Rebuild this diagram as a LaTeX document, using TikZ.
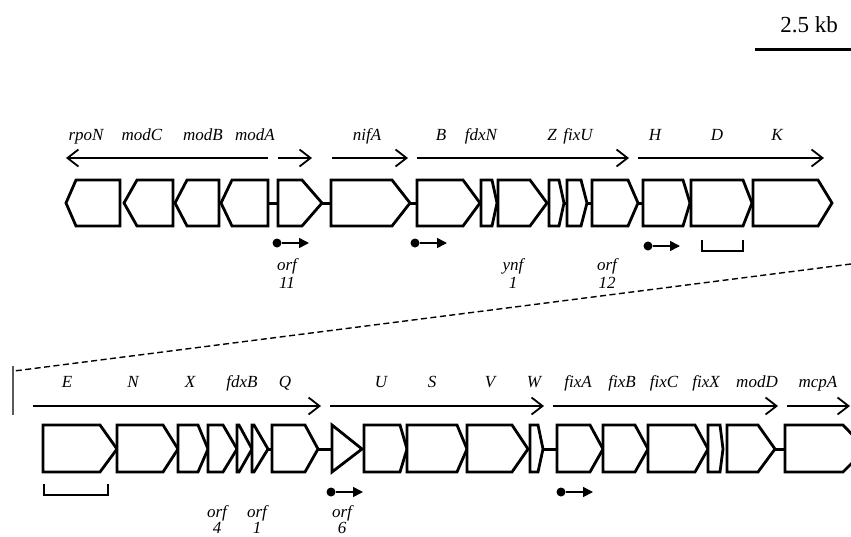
\documentclass[tikz,border=0pt]{standalone}
\usepackage{fontspec}
\setmainfont{Liberation Serif}
\usetikzlibrary{arrows.meta,calc}
% gene: name, flat end x, corner x, tip x  (uses \yt \ym \yb)
\newcommand{\gn}[4]{%
  \draw[gene] (#2,\yt) -- (#3,\yt) -- (#4,\ym) -- (#3,\yb) -- (#2,\yb) -- cycle;
  \coordinate (#1-a) at (#2,\ym);
  \coordinate (#1-b) at (#4,\ym);}
\begin{document}
\begin{tikzpicture}[x=1pt,y=-1pt,
  gene/.style={line width=2.8pt,line join=miter,fill=white},
  igr/.style={line width=3pt},
  opr/.style={line width=1.8pt,-{Straight Barb[length=11pt,width=17pt,line width=1.8pt]}},
  prom/.style={line width=1.6pt,-{Triangle[length=10pt,width=10pt]}},
  dot/.style={circle,fill=black,inner sep=0pt,minimum size=9pt},
  lab/.style={font=\fontsize{17}{17}\selectfont\itshape,inner sep=0pt,anchor=base},
  brk/.style={line width=2.8pt},
  zoomline/.style={line width=1.4pt,dash pattern=on 6pt off 3.5pt}]
\useasboundingbox (0,0) rectangle (851,536);
\clip (0,0) rectangle (851,536);

% scale bar
\node[font=\fontsize{23}{23}\selectfont,inner sep=0pt,anchor=base] (scl) at (809,32) {2.5 kb};
\coordinate (sb1) at (755,49);
\coordinate (sb2) at (853,49);
\draw[line width=3pt] (sb1) -- (sb2);

% ---------------- top row ----------------
\def\yt{180}\def\ym{203}\def\yb{226}
\gn{rpoN}{120}{76}{66}
\gn{modC}{173}{137}{124}
\gn{modB}{219}{187}{175}
\gn{modA}{268}{232}{221}
\gn{orfA}{278}{302}{322}
\gn{nifA}{331}{392}{410}
\gn{nifB}{417}{463}{480}
\gn{fdxN}{481}{492}{497}
\gn{ynf}{498}{530}{547}
\gn{nifZ}{549}{559}{564}
\gn{fixU}{567}{581}{587}
\gn{orfB}{592}{628}{638}
\gn{nifH}{643}{683}{690}
\gn{nifD}{691}{743}{752}
\gn{nifK}{753}{818}{832}
\draw[igr] (modA-a) -- (orfA-a);
\draw[igr] (orfA-b) -- (nifA-a);
\draw[igr] (nifA-b) -- (nifB-a);
\draw[igr] (nifZ-b) -- (fixU-a);
\draw[igr] (fixU-b) -- (orfB-a);
\draw[igr] (orfB-b) -- (nifH-a);

% operon arrows top
\coordinate (t1a) at (268,158); \coordinate (t1b) at (66,158);
\coordinate (t2a) at (278,158); \coordinate (t2b) at (312,158);
\coordinate (t3a) at (332,158); \coordinate (t3b) at (408,158);
\coordinate (t4a) at (417,158); \coordinate (t4b) at (629,158);
\coordinate (t5a) at (638,158); \coordinate (t5b) at (824,158);
\draw[opr] (t1a) -- (t1b);
\draw[opr] (t2a) -- (t2b);
\draw[opr] (t3a) -- (t3b);
\draw[opr] (t4a) -- (t4b);
\draw[opr] (t5a) -- (t5b);

% labels top
\node[lab] (lrpoN) at (86,140) {rpoN};
\node[lab] (lmodC) at (142,140) {modC};
\node[lab] (lmodB) at (203,140) {modB};
\node[lab] (lmodA) at (255,140) {modA};
\node[lab] (lnifA) at (367,140) {nifA};
\node[lab] (lB) at (441,140) {B};
\node[lab] (lfdxN) at (481,140) {fdxN};
\node[lab] (lZ) at (552,140) {Z};
\node[lab] (lfixU) at (578,140) {fixU};
\node[lab] (lH) at (655,140) {H};
\node[lab] (lD) at (717,140) {D};
\node[lab] (lK) at (777,140) {K};

% promoters top
\node[dot] (p1) at (277,243) {}; \coordinate (p1e) at (309,243);
\node[dot] (p2) at (415,243) {}; \coordinate (p2e) at (447,243);
\node[dot] (p3) at (648,246) {}; \coordinate (p3e) at (680,246);
\draw[prom] (p1) -- (p1e);
\draw[prom] (p2) -- (p2e);
\draw[prom] (p3) -- (p3e);

% bracket under D
\coordinate (bd1) at (702,240); \coordinate (bd2) at (743,240);
\draw[brk] (bd1) -- ++(0,11) -- ($(bd2)+(0,11)$) -- (bd2);

% orf labels top
\node[lab] (o11a) at (287,270) {orf};
\node[lab] (o11b) at (287,288) {11};
\node[lab] (y1a) at (513,270) {ynf};
\node[lab] (y1b) at (513,288) {1};
\node[lab] (o12a) at (607,270) {orf};
\node[lab] (o12b) at (607,288) {12};

% zoom lines
\coordinate (z1) at (851,264);
\coordinate (z2) at (14,371);
\draw[zoomline] (z1) -- (z2);
\coordinate (v1) at (13,366);
\coordinate (v2) at (13,415);
\draw[line width=1.2pt,gray!70!black] (v1) -- (v2);

% ---------------- bottom row ----------------
\def\yt{425}\def\ym{449}\def\yb{472}
\gn{nifE}{43}{100}{117}
\gn{nifN}{117}{163}{178}
\gn{nifX}{178}{198}{208}
\gn{orfC}{208}{223}{237}
\gn{fdxB}{237}{239}{252}
\gn{orfD}{252}{254}{268}
\gn{nifQ}{272}{305}{318}
\gn{orfE}{332}{332}{362}
\gn{nifU}{364}{400}{407}
\gn{nifS}{407}{457}{467}
\gn{nifV}{467}{512}{528}
\gn{nifW}{530}{538}{543}
\gn{fixA}{557}{590}{603}
\gn{fixB}{603}{635}{648}
\gn{fixC}{648}{695}{708}
\gn{fixX}{708}{720}{723}
\gn{modD}{727}{758}{775}
\gn{mcpA}{785}{843}{866}
\draw[igr] (orfD-b) -- (nifQ-a);
\draw[igr] (nifQ-b) -- (orfE-a);
\draw[igr] (nifW-b) -- (fixA-a);
\draw[igr] (modD-b) -- (mcpA-a);

% operon arrows bottom
\coordinate (b1a) at (33,406); \coordinate (b1b) at (321,406);
\coordinate (b2a) at (330,406); \coordinate (b2b) at (544,406);
\coordinate (b3a) at (553,406); \coordinate (b3b) at (778,406);
\coordinate (b4a) at (787,406); \coordinate (b4b) at (850,406);
\draw[opr] (b1a) -- (b1b);
\draw[opr] (b2a) -- (b2b);
\draw[opr] (b3a) -- (b3b);
\draw[opr] (b4a) -- (b4b);

% labels bottom
\node[lab] (lE) at (67,387) {E};
\node[lab] (lN) at (133,387) {N};
\node[lab] (lX) at (190,387) {X};
\node[lab] (lfdxB) at (242,387) {fdxB};
\node[lab] (lQ) at (285,387) {Q};
\node[lab] (lU) at (381,387) {U};
\node[lab] (lS) at (432,387) {S};
\node[lab] (lV) at (490,387) {V};
\node[lab] (lW) at (534,387) {W};
\node[lab] (lfixA) at (578,387) {fixA};
\node[lab] (lfixB) at (622,387) {fixB};
\node[lab] (lfixC) at (664,387) {fixC};
\node[lab] (lfixX) at (706,387) {fixX};
\node[lab] (lmodD) at (757,387) {modD};
\node[lab] (lmcpA) at (818,387) {mcpA};

% promoters bottom
\node[dot] (p4) at (331,492) {}; \coordinate (p4e) at (363,492);
\node[dot] (p5) at (561,492) {}; \coordinate (p5e) at (593,492);
\draw[prom] (p4) -- (p4e);
\draw[prom] (p5) -- (p5e);

% bracket under E
\coordinate (be1) at (44,484); \coordinate (be2) at (108,484);
\draw[brk] (be1) -- ++(0,11) -- ($(be2)+(0,11)$) -- (be2);

% orf labels bottom
\node[lab] (o4a) at (217,517) {orf};
\node[lab] (o4b) at (217,533) {4};
\node[lab] (o1a) at (257,517) {orf};
\node[lab] (o1b) at (257,533) {1};
\node[lab] (o6a) at (342,517) {orf};
\node[lab] (o6b) at (342,533) {6};
\end{tikzpicture}
\end{document}
